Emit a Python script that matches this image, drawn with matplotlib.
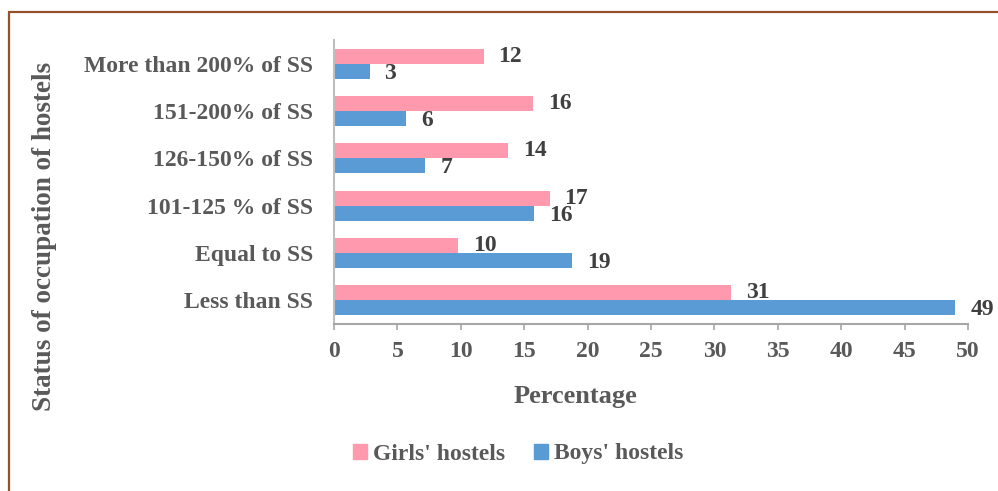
import matplotlib
matplotlib.use("Agg")
import matplotlib.pyplot as plt
from matplotlib.patches import Rectangle, Patch
import numpy as np

categories = ["Less than SS", "Equal to SS", "101-125 % of SS", "126-150% of SS",
              "151-200% of SS", "More than 200% of SS"]
girls = [31.3, 9.8, 17.0, 13.7, 15.7, 11.8]
boys = [49.0, 18.8, 15.8, 7.2, 5.7, 2.8]
girls_labels = ["31", "10", "17", "14", "16", "12"]
boys_labels = ["49", "19", "16", "7", "6", "3"]
xticks = list(range(0, 55, 5))

plt.rcParams['font.family'] = ['Liberation Serif', 'DejaVu Serif']
plt.rcParams['font.weight'] = 'bold'

W, H = 998, 491
fig = plt.figure(figsize=(W/100, H/100), dpi=100)
ax = fig.add_axes([334/W, 1-324/H, (968-334)/W, (324-40)/H])

pink = '#FF99AD'
blue = '#5B9BD5'
txt = '#595959'
lab = '#404040'

y = np.arange(len(categories))
h = 0.32
ax.barh(y + h/2, girls, height=h, color=pink, label="Girls' hostels")
ax.barh(y - h/2, boys, height=h, color=blue, label="Boys' hostels")

for yi, v, s in zip(y, girls, girls_labels):
    ax.annotate(s, (v, yi + h/2), xytext=(15, 0), textcoords='offset pixels',
                ha='left', va='center', fontsize=17, fontweight='bold', color=lab)
for yi, v, s in zip(y, boys, boys_labels):
    ax.annotate(s, (v, yi - h/2), xytext=(15, -2), textcoords='offset pixels',
                ha='left', va='center', fontsize=17, fontweight='bold', color=lab)

ax.set_xlim(0, 50)
ax.set_ylim(-0.5, len(categories) - 0.5)
ax.set_xticks(xticks)
ax.set_xticklabels([str(t) for t in xticks])
ax.set_yticks(y)
ax.set_yticklabels(categories)
ax.tick_params(axis='x', direction='out', length=4.5, width=1.2, color='#A6A6A6',
               labelsize=17, labelcolor=txt, pad=8)
ax.tick_params(axis='y', length=0, labelsize=17, labelcolor=txt, pad=15)
for t in ax.get_xticklabels() + ax.get_yticklabels():
    t.set_fontweight('bold')
for sp in ['top', 'right']:
    ax.spines[sp].set_visible(False)
ax.spines['left'].set_color('#BFBFBF')
ax.spines['bottom'].set_color('#A6A6A6')
ax.spines['left'].set_linewidth(1.5)
ax.spines['bottom'].set_linewidth(1.5)

fig.text(575/W, 1-397/H, "Percentage", ha='center', va='center', fontsize=19,
         fontweight='bold', color=txt)
fig.text(45/W, 1-236/H, "Status of occupation of hostels", ha='center', va='center',
         rotation=90, fontsize=19.5, fontweight='bold', color=txt)

handles = [Patch(color=pink), Patch(color=blue)]
leg = fig.legend(handles, ["Girls' hostels", "Boys' hostels"], ncol=2,
                 loc='center', bbox_to_anchor=(518/W, 1-454/H), frameon=False,
                 handlelength=0.6, handleheight=0.6, handletextpad=0.25,
                 columnspacing=1.2, prop={'size': 17, 'weight': 'bold'})
for t in leg.get_texts():
    t.set_color(txt)

fig.patches.append(Rectangle((8.5/W, -0.1), 1.2, 1 - 11.5/H + 0.1, transform=fig.transFigure,
                             fill=False, edgecolor='#94512A', linewidth=1.6))

fig.savefig("out.png", dpi=100)
